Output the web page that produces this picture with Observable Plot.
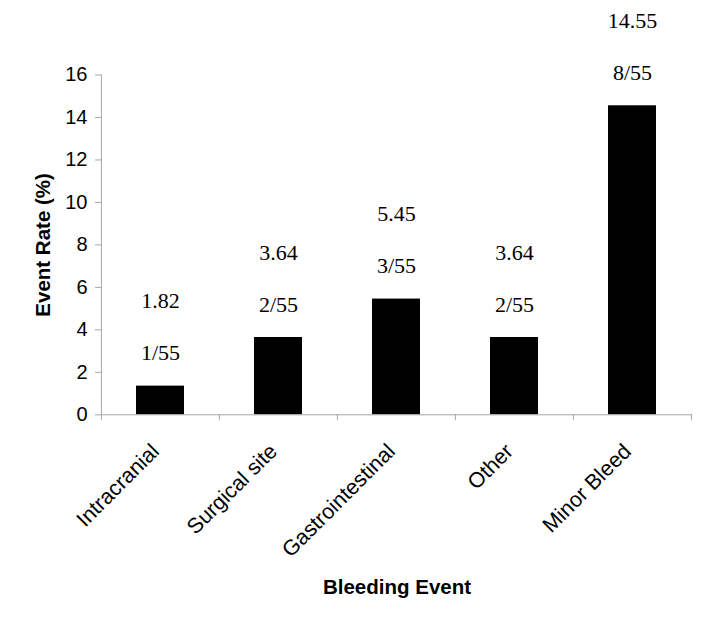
<!DOCTYPE html>
<html>
<head>
<meta charset="utf-8">
<script src="https://cdn.jsdelivr.net/npm/d3@7"></script>
<script src="https://cdn.jsdelivr.net/npm/@observablehq/plot@0.6"></script>
<style>
  html, body { margin: 0; padding: 0; background: #fff; }
</style>
</head>
<body>
<div id="chart"></div>
<script>
const categories = ["Intracranial", "Surgical site", "Gastrointestinal", "Other", "Minor Bleed"];
const barValues = [1.35, 3.64, 5.45, 3.64, 14.55];
const rateLabels = ["1.82", "3.64", "5.45", "3.64", "14.55"];
const countLabels = ["1/55", "2/55", "3/55", "2/55", "8/55"];
const yTicks = [0, 2, 4, 6, 8, 10, 12, 14, 16];
const yTitle = "Event Rate (%)";
const xTitle = "Bleeding Event";

const data = categories.map((c, i) => ({
  category: c,
  value: barValues[i],
  rate: rateLabels[i],
  count: countLabels[i]
}));

const W = 712, H = 633;
const mL = 101, mR = 20, mT = 74.5, mB = 218.7;
const step = (W - mL - mR) / categories.length;

const sans = "Liberation Sans, Arial, sans-serif";
const serif = "Liberation Serif, Times New Roman, serif";
const axisGray = "#a6a6a6";

const chart = Plot.plot({
  width: W,
  height: H,
  marginLeft: mL,
  marginRight: mR,
  marginTop: mT,
  marginBottom: mB,
  style: { fontFamily: sans, background: "#fff", overflow: "visible" },
  x: { type: "band", domain: categories, paddingInner: 0.59, paddingOuter: 0.295, axis: null },
  y: { domain: [0, 16], axis: null },
  marks: [
    // bars
    Plot.barY(data, { x: "category", y: "value", fill: "#000" }),
    // y axis line
    Plot.ruleX([categories[0]], { x: d => d, y1: 0, y2: 16, dx: -step / 2, stroke: axisGray }),
    // y ticks and labels
    Plot.axisY({ ticks: yTicks, tickSize: 6, tickPadding: 8, stroke: axisGray, fill: "#000", fontSize: 20, label: null, tickFormat: d => String(d) }),
    // x axis line
    Plot.ruleY([0], { stroke: axisGray }),
    // x boundary ticks
    Plot.ruleX(categories, { x: d => d, y1: 0, y2: 0, dx: -step / 2, insetBottom: -6, stroke: axisGray }),
    Plot.ruleX([categories[categories.length - 1]], { x: d => d, y1: 0, y2: 0, dx: step / 2, insetBottom: -6, stroke: axisGray }),
    // x tick labels
    Plot.text(categories, { x: d => d, text: d => d, frameAnchor: "bottom", textAnchor: "end", lineAnchor: "middle", rotate: -45, dx: -5, dy: 33, fontSize: 21.5, fill: "#000" }),
    // value labels
    Plot.text(data, { x: "category", y: "value", text: "count", dy: -33, fontFamily: serif, fontSize: 22, fill: "#000" }),
    Plot.text(data, { x: "category", y: "value", text: "rate", dy: -85, fontFamily: serif, fontSize: 22, fill: "#000" }),
    // axis titles
    Plot.text([yTitle], { frameAnchor: "left", text: d => d, textAnchor: "middle", lineAnchor: "middle", rotate: -90, dx: -58, fontSize: 20.5, fontWeight: "bold", fill: "#000" }),
    Plot.text([xTitle], { frameAnchor: "bottom", text: d => d, textAnchor: "middle", lineAnchor: "middle", dy: 173, fontSize: 20.5, fontWeight: "bold", fill: "#000" })
  ]
});

document.getElementById("chart").appendChild(chart);
</script>
</body>
</html>
